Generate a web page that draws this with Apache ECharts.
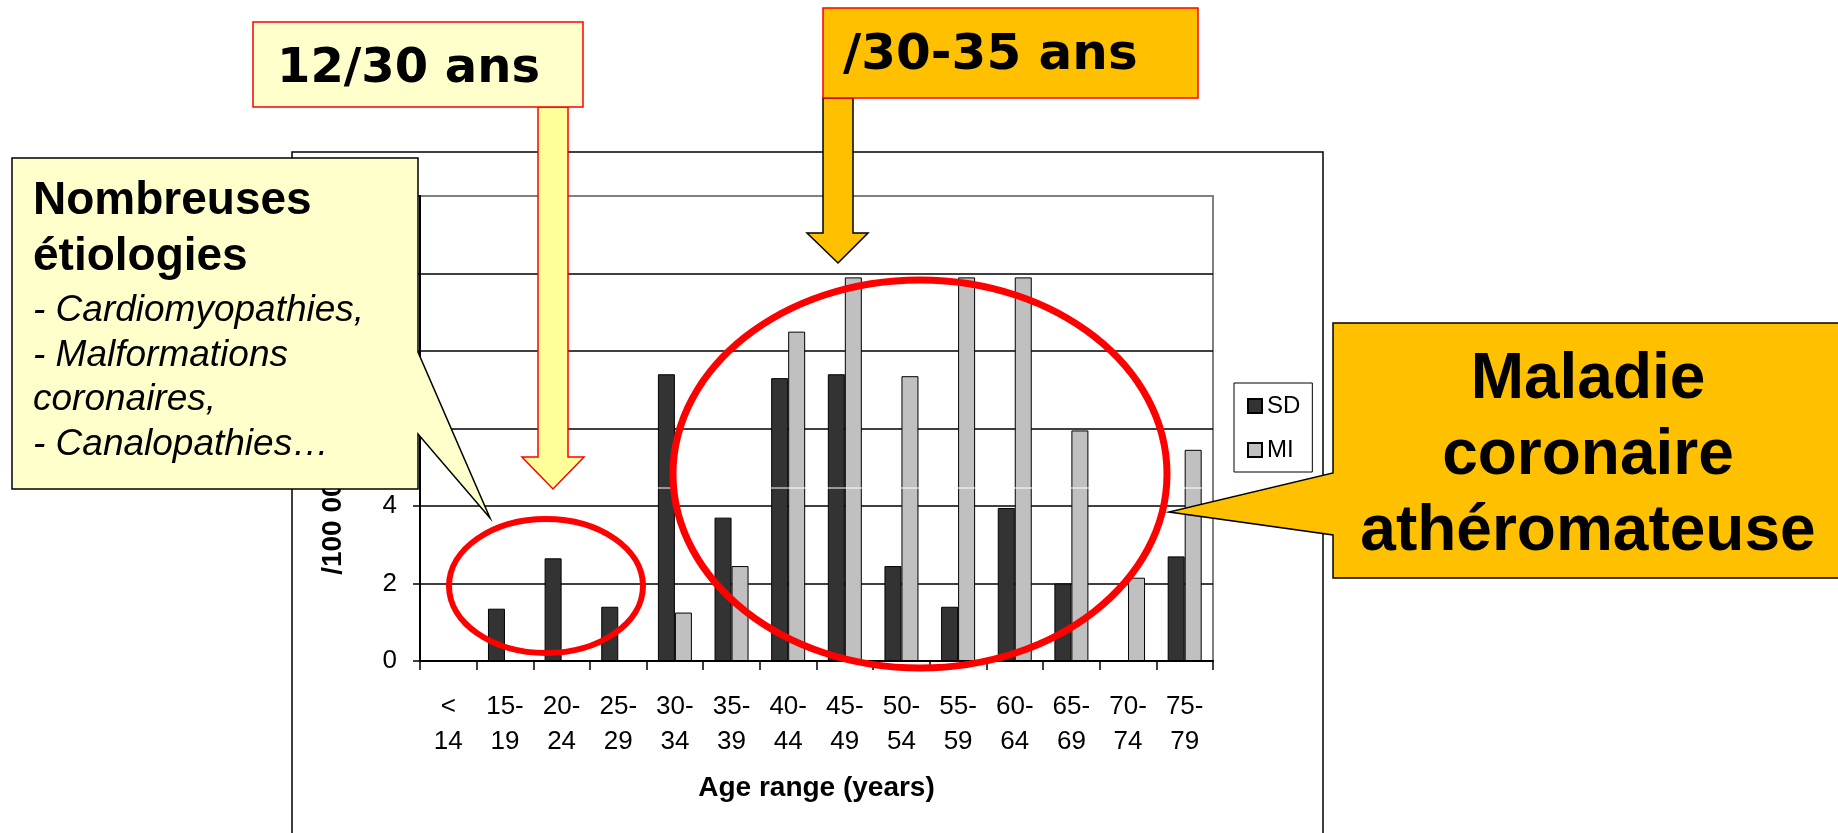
<!DOCTYPE html>
<html>
<head>
<meta charset="utf-8">
<script src="https://cdn.jsdelivr.net/npm/echarts@6/dist/echarts.min.js"></script>
<style>
html, body { margin: 0; padding: 0; background: #fff; }
#main { width: 1838px; height: 833px; }
</style>
</head>
<body>
<div id="main"></div>
<script>
// data
var ageRanges = ['<\n14', '15-\n19', '20-\n24', '25-\n29', '30-\n34', '35-\n39', '40-\n44',
    '45-\n49', '50-\n54', '55-\n59', '60-\n64', '65-\n69', '70-\n74', '75-\n79'];
var sdValues = ['-', 1.35, 2.65, 1.4, 7.4, 3.7, 7.3, 7.4, 2.45, 1.4, 3.95, 2.0, '-', 2.7];
var miValues = ['-', '-', '-', '-', 1.25, 2.45, 8.5, 9.9, 7.35, 9.9, 9.9, 5.95, 2.15, 5.45];
var yMin = 0, yMax = 12, yStep = 2;

var arial = '"Liberation Sans", Arial, sans-serif';
var comic = '"DejaVu Sans", sans-serif';

var chart = echarts.init(document.getElementById('main'));

function txt(text, x, y, font, opts) {
    opts = opts || {};
    return {type: 'text', x: x, y: y, z: 120, silent: true,
        style: {text: text, font: font, fill: '#000', align: opts.align || 'left', verticalAlign: 'middle'}};
}

var graphics = [
    // chart frame
    {type: 'rect', z: -100, silent: true, shape: {x: 292, y: 152, width: 1031, height: 700},
        style: {fill: '#fff', stroke: '#000', lineWidth: 1.5}},
    // white streak across the bars
    {type: 'line', z: 20, silent: true, shape: {x1: 424, y1: 488, x2: 1212, y2: 488},
        style: {stroke: '#fff', lineWidth: 1}},
    // ellipses
    {type: 'ellipse', z: 60, silent: true, shape: {cx: 546, cy: 586, rx: 97, ry: 67},
        style: {fill: 'none', stroke: '#ff0000', lineWidth: 6}},
    {type: 'ellipse', z: 60, silent: true, shape: {cx: 920, cy: 474, rx: 247, ry: 194},
        style: {fill: 'none', stroke: '#ff0000', lineWidth: 7}},
    // yellow arrow + box
    {type: 'polygon', z: 100, silent: true,
        shape: {points: [[538, 107], [568, 107], [568, 457], [584, 457], [553, 489], [522, 457], [538, 457]]},
        style: {fill: '#ffff99', stroke: '#ff0000', lineWidth: 1.5}},
    {type: 'rect', z: 100, silent: true, shape: {x: 253, y: 22, width: 330, height: 85},
        style: {fill: '#ffffcc', stroke: '#ff0000', lineWidth: 1.5}},
    txt('12/30 ans', 277, 70, 'bold 48px ' + comic),
    // orange arrow + box
    {type: 'polygon', z: 100, silent: true,
        shape: {points: [[823, 98], [853, 98], [853, 233], [868, 233], [838, 263], [807, 233], [823, 233]]},
        style: {fill: '#ffc000', stroke: '#000', lineWidth: 1.5}},
    {type: 'rect', z: 100, silent: true, shape: {x: 823, y: 8, width: 375, height: 90},
        style: {fill: '#ffc000', stroke: '#ff0000', lineWidth: 1.5}},
    txt('/30-35 ans', 843, 56, 'bold 50px ' + comic),
    // left callout
    {type: 'polygon', z: 100, silent: true,
        shape: {points: [[12, 158], [418, 158], [418, 352], [490, 518], [418, 434], [418, 489], [12, 489]]},
        style: {fill: '#ffffcc', stroke: '#000', lineWidth: 1.5}},
    txt('Nombreuses', 33, 201, 'bold 46px ' + arial),
    txt('étiologies', 33, 257, 'bold 46px ' + arial),
    txt('- Cardiomyopathies,', 33, 311, 'italic 37px ' + arial),
    txt('- Malformations', 33, 356, 'italic 37px ' + arial),
    txt('coronaires,', 33, 400, 'italic 37px ' + arial),
    txt('- Canalopathies…', 33, 445, 'italic 37px ' + arial),
    // right callout
    {type: 'polygon', z: 100, silent: true,
        shape: {points: [[1333, 323], [1845, 323], [1845, 578], [1333, 578], [1333, 535], [1169, 512], [1333, 473]]},
        style: {fill: '#ffc000', stroke: '#000', lineWidth: 1.5}},
    txt('Maladie', 1588, 380, 'bold 64px ' + arial, {align: 'center'}),
    txt('coronaire', 1588, 456, 'bold 64px ' + arial, {align: 'center'}),
    txt('athéromateuse', 1588, 532, 'bold 64px ' + arial, {align: 'center'})
];

var option = {
    animation: false,
    backgroundColor: '#fff',
    textStyle: {fontFamily: arial, color: '#000'},
    grid: {left: 420, right: 625, top: 196, bottom: 172, show: true,
        borderColor: '#808080', borderWidth: 2, backgroundColor: 'transparent'},
    legend: {
        orient: 'vertical', left: 1234, top: 383, selectedMode: false,
        padding: [11, 12, 10, 13], itemGap: 20, itemWidth: 14, itemHeight: 14, itemTextGap: 10,
        borderColor: '#000', borderWidth: 1, backgroundColor: '#fff', icon: 'rect',
        textStyle: {fontSize: 24, color: '#000', fontFamily: arial},
        data: ['SD', 'MI']
    },
    xAxis: {
        type: 'category', data: ageRanges,
        name: 'Age range (years)', nameLocation: 'middle', nameGap: 113,
        nameTextStyle: {fontSize: 28, fontWeight: 'bold', color: '#000', fontFamily: arial},
        axisLine: {lineStyle: {color: '#000', width: 2}},
        axisTick: {show: true, length: 9, interval: 0, lineStyle: {color: '#000', width: 1.5}},
        axisLabel: {interval: 0, fontSize: 26, lineHeight: 35, margin: 28, color: '#000', fontFamily: arial},
        splitLine: {show: false}
    },
    yAxis: {
        type: 'value', min: yMin, max: yMax, interval: yStep,
        name: '/100 000 person-years', nameLocation: 'middle', nameGap: 73,
        nameTextStyle: {fontSize: 28, fontWeight: 'bold', color: '#000', fontFamily: arial},
        axisLine: {show: true, lineStyle: {color: '#000', width: 2}},
        axisTick: {show: true, length: 7, lineStyle: {color: '#000', width: 1.5}},
        axisLabel: {fontSize: 26, margin: 23, color: '#000', fontFamily: arial},
        splitLine: {show: true, showMaxLine: false, lineStyle: {color: '#000', width: 1.5}}
    },
    series: [
        {name: 'SD', type: 'bar', data: sdValues, barWidth: 17, barGap: '0%',
            itemStyle: {color: '#333333', borderColor: '#000', borderWidth: 1}},
        {name: 'MI', type: 'bar', data: miValues, barWidth: 17, barGap: '0%',
            itemStyle: {color: '#c0c0c0', borderColor: '#000', borderWidth: 1}}
    ],
    graphic: graphics
};
chart.setOption(option);
</script>
</body>
</html>
